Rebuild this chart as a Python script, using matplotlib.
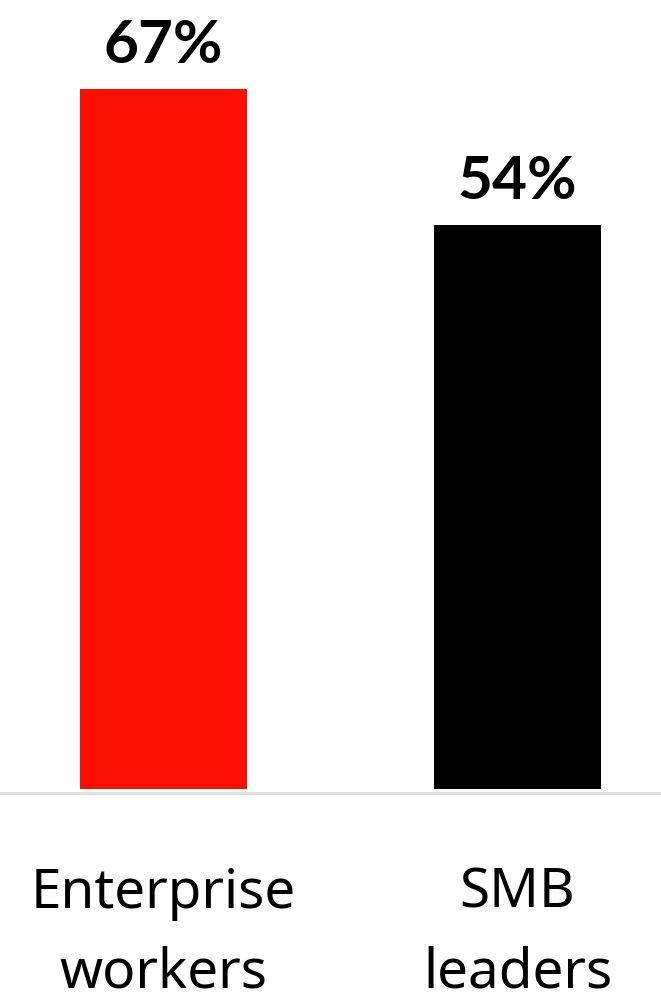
import matplotlib
matplotlib.use("Agg")
import matplotlib.pyplot as plt
from matplotlib.transforms import blended_transform_factory

categories = ["Enterprise\nworkers", "SMB\nleaders"]
values = [67, 54]
value_labels = ["67%", "54%"]
colors = ["#FA0F00", "#000000"]

W, H, DPI = 661, 1001, 100
fig = plt.figure(figsize=(W / DPI, H / DPI), dpi=DPI)
ax_bottom_px = 789
ax = fig.add_axes([0, (H - ax_bottom_px) / H, 1, ax_bottom_px / H])

x = list(range(len(categories)))
ax.bar(x, values, width=0.472, color=colors)
ax.set_xlim(-0.462, 1.405)
ax.set_ylim(0, 75.5)

for xi, v, lab in zip(x, values, value_labels):
    ax.annotate(lab, (xi, v), xytext=(0, 18.5), textcoords="offset points",
                ha="center", va="baseline", fontsize=43.5, fontweight="bold",
                family=["Lato", "DejaVu Sans"], color="black")

ax.set_xticks(x)
ax.set_xticklabels([])
ax.tick_params(axis="x", length=0)
trans = blended_transform_factory(ax.transData, fig.transFigure)
line_baselines_px = [908, 987]
for xi, cat in zip(x, categories):
    for line, by in zip(cat.split("\n"), line_baselines_px):
        ax.text(xi, (H - by) / H, line, transform=trans, ha="center",
                va="baseline", fontsize=39.5,
                family=["Noto Sans", "DejaVu Sans"], color="black")

ax.set_yticks([])
for s in ["top", "left", "right"]:
    ax.spines[s].set_visible(False)
ax.spines["bottom"].set_color("#dedede")
ax.spines["bottom"].set_linewidth(2)
ax.spines["bottom"].set_position(("outward", 3))
ax.set_facecolor("white")
fig.savefig("out.png", dpi=DPI, facecolor="white")
